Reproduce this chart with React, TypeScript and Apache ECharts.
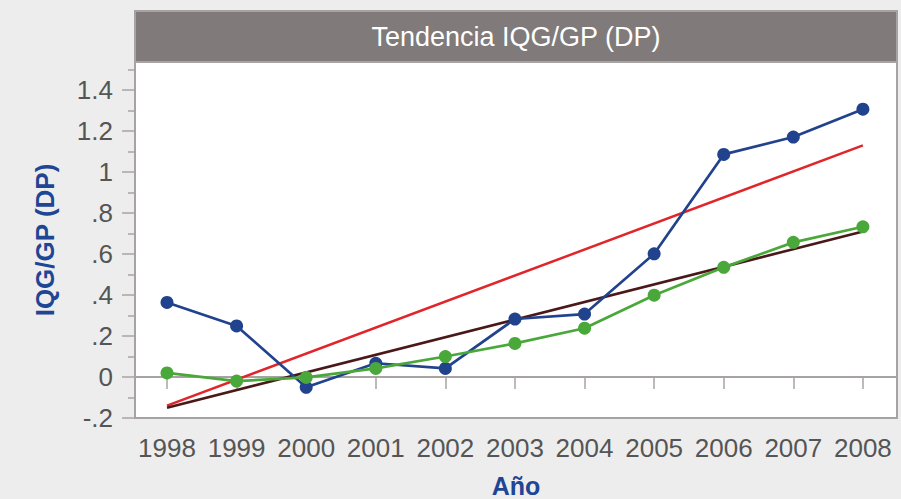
import React, { useEffect, useRef } from "react";
import * as echarts from "echarts";

const years = [1998, 1999, 2000, 2001, 2002, 2003, 2004, 2005, 2006, 2007, 2008];
const blueValues = [0.364, 0.249, -0.05, 0.067, 0.042, 0.283, 0.307, 0.601, 1.086, 1.171, 1.307];
const greenValues = [0.02, -0.02, -0.002, 0.042, 0.1, 0.164, 0.238, 0.399, 0.535, 0.657, 0.733];
const redTrend = [-0.14, 1.13]; // at 1998 and 2008
const darkTrend = [-0.15, 0.71]; // at 1998 and 2008
const yMajorTicks = [-0.2, 0, 0.2, 0.4, 0.6, 0.8, 1, 1.2, 1.4];
const yMinorTicks = [-0.1, 0.1, 0.3, 0.5, 0.7, 0.9, 1.1, 1.3, 1.5];
const titleText = "Tendencia IQG/GP (DP)";
const yName = "IQG/GP (DP)";
const xName = "Año";

const FONT = "'Liberation Sans', Arial, Helvetica, sans-serif";

function fmtY(v: number): string {
  const r = Math.round(v * 10) / 10;
  if (r === 0) return "0";
  let s = String(r);
  s = s.replace(/^0\./, ".").replace(/^-0\./, "-.");
  return s;
}

export default function App() {
  const ref = useRef<HTMLDivElement>(null);
  useEffect(() => {
    document.body.style.margin = "0";
    if (!ref.current) return;
    const chart = echarts.init(ref.current, null, { renderer: "svg" });
    const left = 135, right = 4, top = 62, bottom = 81;
    const plotW = 901 - left - right;
    const gray = "#a8a3a3";
    const option: any = {
      animation: false,
      backgroundColor: "#ededed",
      textStyle: { fontFamily: FONT },
      grid: {
        left, right, top, bottom,
        show: true,
        backgroundColor: "#ffffff",
        borderColor: gray,
        borderWidth: 2,
      },
      xAxis: {
        type: "value",
        min: 1997.54,
        max: 2008.49,
        axisLine: { show: true, lineStyle: { color: gray, width: 2 } },
        axisTick: { show: true, length: 12, lineStyle: { color: gray, width: 1.5 }, customValues: years },
        axisLabel: {
          customValues: years,
          formatter: (v: number) => String(Math.round(v)),
          fontSize: 26,
          color: "#555555",
          margin: 17,
          fontFamily: FONT,
        },
        splitLine: { show: false },
      },
      yAxis: [
        {
          type: "value",
          min: -0.2,
          max: 1.537,
          axisLine: { show: true, lineStyle: { color: gray, width: 2 } },
          axisTick: { show: true, length: 13, lineStyle: { color: gray, width: 1.5 }, customValues: yMajorTicks },
          axisLabel: {
            customValues: yMajorTicks,
            formatter: (v: number) => fmtY(v),
            fontSize: 26,
            color: "#555555",
            margin: 22,
            fontFamily: FONT,
          },
          splitLine: { show: false },
        },
        {
          type: "value",
          position: "left",
          min: -0.2,
          max: 1.537,
          axisLine: { show: false },
          axisTick: { show: true, length: 7, lineStyle: { color: gray, width: 1.5 }, customValues: yMinorTicks },
          axisLabel: { show: false },
          splitLine: { show: false },
        },
      ],
      graphic: [
        {
          type: "rect",
          shape: { x: left, y: 11, width: plotW, height: top - 11 },
          style: { fill: "#807a7a", stroke: gray, lineWidth: 2 },
          z: 100,
        },
        {
          type: "text",
          x: left + plotW / 2,
          y: 37,
          style: {
            text: titleText,
            fill: "#ffffff",
            fontSize: 27,
            fontFamily: FONT,
            align: "center",
            verticalAlign: "middle",
          },
          z: 101,
        },
        {
          type: "text",
          x: 45,
          y: 240,
          rotation: Math.PI / 2,
          style: {
            text: yName,
            fill: "#1f4595",
            fontSize: 26,
            fontWeight: "bold",
            fontFamily: FONT,
            align: "center",
            verticalAlign: "middle",
          },
        },
        {
          type: "text",
          x: left + plotW / 2,
          y: 486,
          style: {
            text: xName,
            fill: "#1f4595",
            fontSize: 25,
            fontWeight: "bold",
            fontFamily: FONT,
            align: "center",
            verticalAlign: "middle",
          },
        },
      ],
      series: [
        {
          type: "line",
          name: "Tendencia 1",
          data: [[years[0], redTrend[0]], [years[years.length - 1], redTrend[1]]],
          symbol: "none",
          lineStyle: { color: "#e0262a", width: 2.5 },
          z: 2,
        },
        {
          type: "line",
          name: "Tendencia 2",
          data: [[years[0], darkTrend[0]], [years[years.length - 1], darkTrend[1]]],
          symbol: "none",
          lineStyle: { color: "#4a1818", width: 2.7 },
          z: 3,
        },
        {
          type: "line",
          name: "IQG/GP",
          data: years.map((y, i) => [y, blueValues[i]]),
          symbol: "circle",
          symbolSize: 13,
          itemStyle: { color: "#21428c" },
          lineStyle: { color: "#21428c", width: 2.7 },
          z: 4,
        },
        {
          type: "line",
          name: "IQG/GP 2",
          data: years.map((y, i) => [y, greenValues[i]]),
          symbol: "circle",
          symbolSize: 13,
          itemStyle: { color: "#4aa83a" },
          lineStyle: { color: "#4aa83a", width: 2.7 },
          z: 5,
        },
      ],
    };
    chart.setOption(option);
    return () => chart.dispose();
  }, []);
  return <div ref={ref} style={{ width: 901, height: 499 }} />;
}
